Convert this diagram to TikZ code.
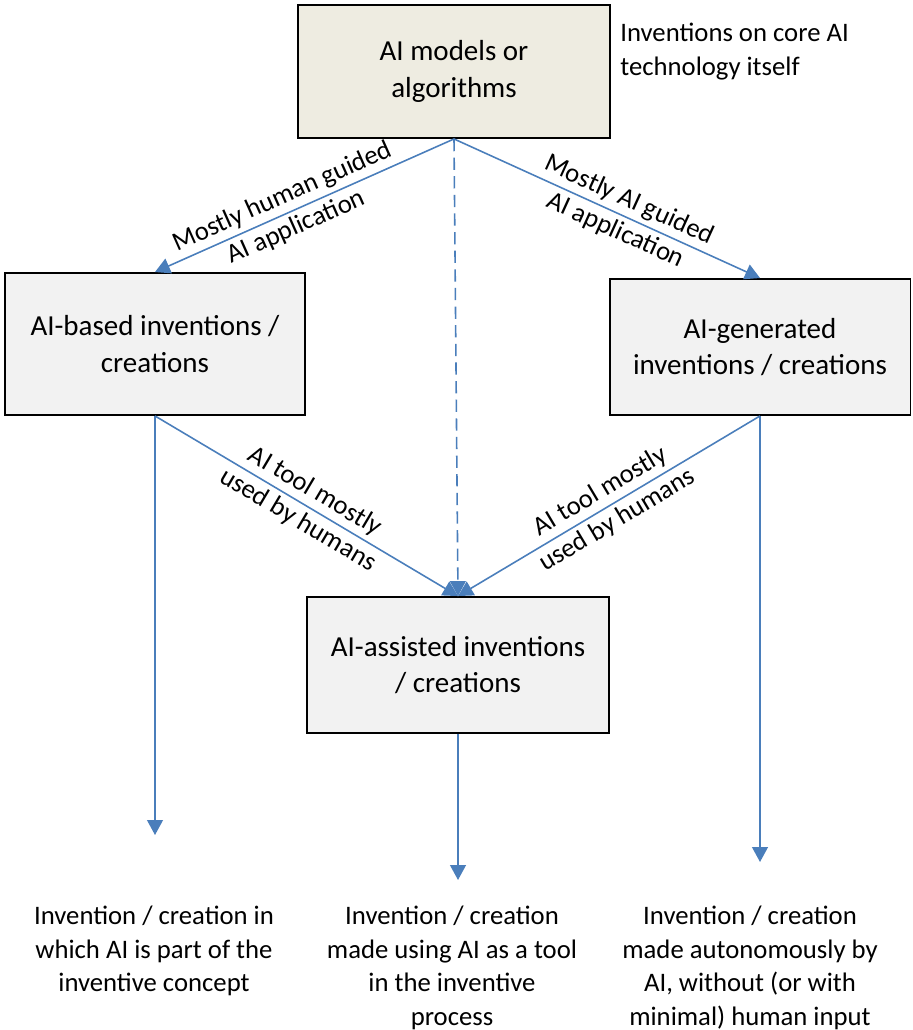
\documentclass[tikz,border=0pt]{standalone}
\usepackage{fontspec}
\setmainfont{Carlito}
\usetikzlibrary{arrows.meta}
\definecolor{linkblue}{HTML}{4A7EBB}
\definecolor{coretan}{HTML}{EEECE1}
\definecolor{boxgray}{HTML}{F2F2F2}
\newcommand{\boxfont}{\fontsize{16.5}{21}\selectfont}
\newcommand{\labfont}{\fontsize{15.2}{19}\selectfont}

\begin{document}
\begin{tikzpicture}[x=0.02cm,y=-0.02cm,
		kind/.style={draw=black,line width=1.1pt,fill=boxgray,align=center,font=\boxfont,inner sep=0pt},
		note/.style={align=center,font=\labfont,inner sep=0pt,text=black},
		link/.style={color=linkblue,line width=0.9pt,-{Triangle[length=8.5pt,width=9pt]}}]
	\useasboundingbox (0,0) rectangle (912,1030);
	\node[kind,fill=coretan,minimum width=6.24cm,minimum height=2.66cm] (core) at (454,71.5) {AI models or\\algorithms};
	\node[kind,minimum width=6cm,minimum height=2.84cm] (based) at (155,344) {AI-based inventions /\\creations};
	\node[kind,minimum width=6.02cm,minimum height=2.72cm] (gen) at (760,347) {AI-generated\\inventions / creations};
	\node[kind,minimum width=6.04cm,minimum height=2.72cm] (assist) at (458,665) {AI-assisted inventions\\/ creations};
	\node[note,align=left,anchor=north west] (scope) at (620,23) {Inventions on core AI\\technology itself};
	\coordinate (endA) at (155,835);
	\coordinate (endB) at (458,880);
	\coordinate (endC) at (760,862);
	\node[note,anchor=north] (txtA) at (154,906) {Invention / creation in\\which AI is part of the\\inventive concept};
	\node[note,anchor=north] (txtB) at (452,906) {Invention / creation\\made using AI as a tool\\in the inventive\\process};
	\node[note,anchor=north] (txtC) at (750,906) {Invention / creation\\made autonomously by\\AI, without (or with\\minimal) human input};
	\path[link]
	(core.south) edge node[note,sloped,pos=.55] {Mostly human guided\\AI application} (based.north)
	(core.south) edge node[note,sloped,pos=.55] {Mostly AI guided\\AI application} (gen.north)
	(core.south) edge[dash pattern=on 7pt off 3.6pt] (assist.north)
	(based.south) edge node[note,sloped,pos=.5] {AI tool mostly\\used by humans} (assist.north)
	(gen.south) edge node[note,sloped,pos=.5] {AI tool mostly\\used by humans} (assist.north)
	(based.south) edge (endA)
	(assist.south) edge (endB)
	(gen.south) edge (endC);
\end{tikzpicture}
\end{document}
